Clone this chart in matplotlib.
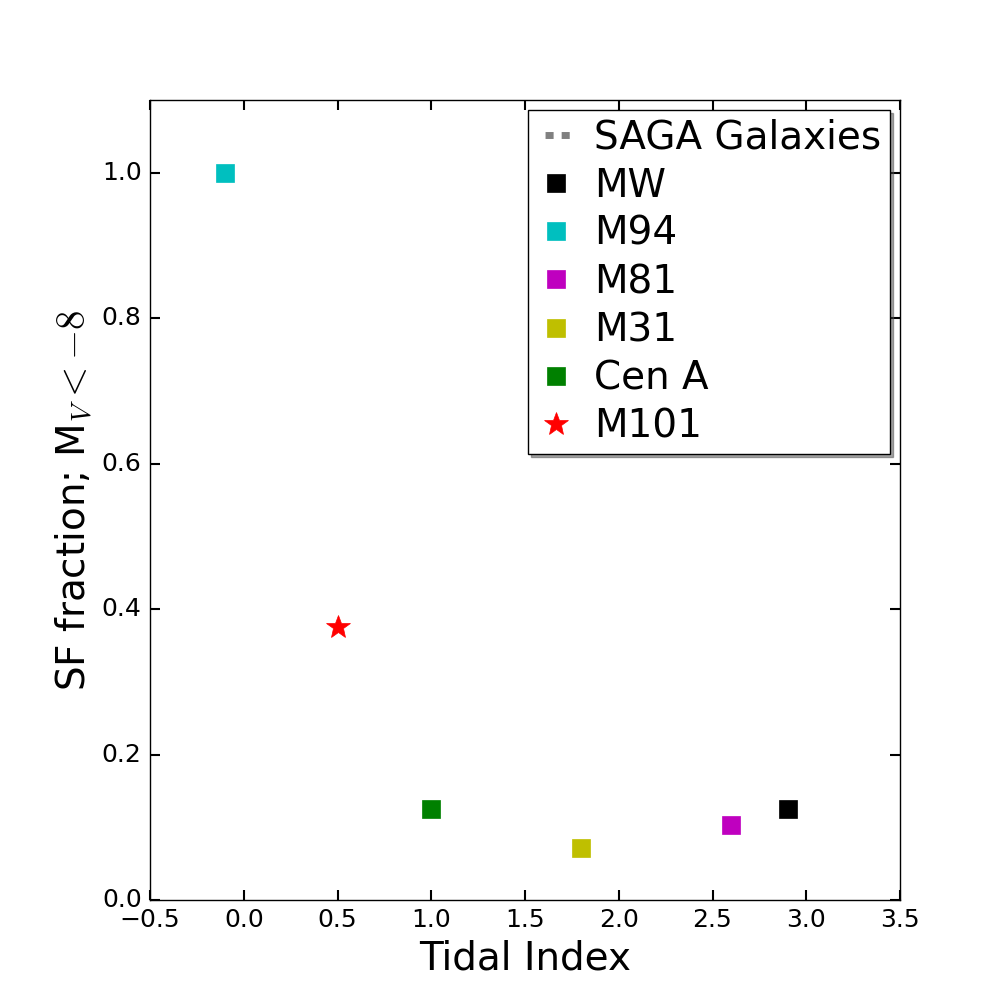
import matplotlib
matplotlib.use('Agg')
import matplotlib.pyplot as plt

plt.style.use('classic')
plt.rcParams['lines.scale_dashes'] = False

# host galaxies: tidal index vs star-forming fraction
hosts = ['MW', 'M94', 'M81', 'M31', 'Cen A']
tidal_index = [2.9, -0.1, 2.6, 1.8, 1.0]
sf_fraction = [0.125, 1.0, 0.103, 0.0714, 0.125]
colors = ['k', 'c', 'm', 'y', 'g']

m101_tidal = [0.5]
m101_sf = [0.375]

fig = plt.figure(figsize=(10, 10), dpi=100)
ax = fig.add_subplot(111)
fig.subplots_adjust(left=0.15, right=0.9, bottom=0.1, top=0.9)

# SAGA galaxies entry (no points shown)
ax.plot([], [], color='grey', lw=5, linestyle=(5.8, (5.8, 5.8)), label='SAGA Galaxies')

for name, x, y, c in zip(hosts, tidal_index, sf_fraction, colors):
    ax.plot([x], [y], 's', color=c, mec=c, ms=13, label=name)

ax.plot(m101_tidal, m101_sf, '*', color='r', mec='r', ms=18, label='M101')

ax.set_xlim(-0.5, 3.5)
ax.set_ylim(0, 1.1)
ax.set_xlabel('Tidal Index', fontsize=28)
ax.set_ylabel(r'SF fraction; M$_V < -8$', fontsize=28)
ax.tick_params(labelsize=18, length=7.5, width=1.5, pad=6)

ax.legend(loc='upper right', numpoints=1, fontsize=28, shadow=True,
          handlelength=1.0, handletextpad=0.48, labelspacing=0.26,
          borderpad=0.22, borderaxespad=0.26)

fig.savefig('out.png', dpi=100, facecolor='white')
